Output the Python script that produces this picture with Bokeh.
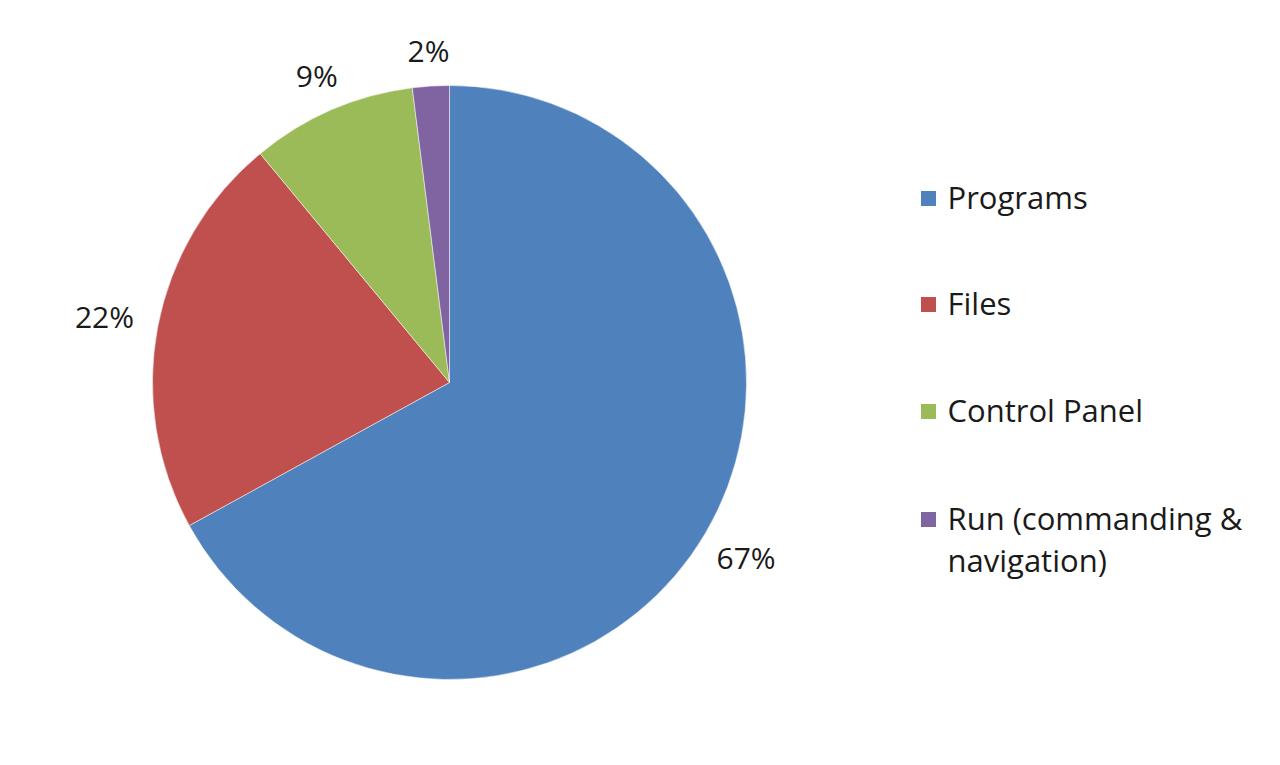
import math
from bokeh.plotting import figure
from bokeh.models import Range1d, ColumnDataSource
from bokeh.core.properties import value
from bokeh.embed import file_html
from bokeh.resources import INLINE

categories = ["Programs", "Files", "Control Panel", "Run (commanding &\nnavigation)"]
shares = [67, 22, 9, 2]
colors = ["#4F81BD", "#C0504D", "#9BBB59", "#8064A2"]

W, H = 1280, 765
cx, cy, R = 449, H - 382, 297
FONT = "Open Sans"
FS = 30
LFS = 31

p = figure(width=W, height=H, x_range=Range1d(0, W), y_range=Range1d(0, H),
           output_backend="svg", toolbar_location=None, min_border=0)
p.axis.visible = False
p.grid.visible = False
p.outline_line_color = None
p.background_fill_color = "white"

total = sum(shares)
starts, ends, lx, ly, labels = [], [], [], [], []
a = math.pi / 2
gap = 24
for v in shares:
    span = 2 * math.pi * v / total
    starts.append(a)
    ends.append(a - span)
    mid = a - span / 2
    lab = f"{v}%"
    hw = len(lab) * 0.66 * FS / 2
    hh = 0.40 * FS
    c, s = abs(math.cos(mid)), abs(math.sin(mid))
    ext = min(hw / c if c > 1e-6 else 1e9, hh / s if s > 1e-6 else 1e9)
    rl = R + gap + ext
    lx.append(cx + rl * math.cos(mid))
    ly.append(cy + rl * math.sin(mid))
    labels.append(lab)
    a -= span

src = ColumnDataSource(dict(start=starts, end=ends, color=colors))
p.wedge(x=cx, y=cy, radius=R, start_angle="start", end_angle="end",
        direction="clock", fill_color="color", line_color="white", line_width=0.5, source=src)

p.text(x=lx, y=ly, text=labels, text_align="center", text_baseline="middle",
       text_font=value(FONT), text_font_size=f"{FS}px", text_color="#1a1a1a")

# legend
leg_y = [H - 198, H - 304, H - 411, H - 519]
p.scatter(x=[928] * 4, y=leg_y, marker="square", size=15, fill_color=colors, line_color=None)
p.text(x=[947] * 4, y=[yy + 23 for yy in leg_y], text=categories, text_align="left",
       text_baseline="top", text_font=value(FONT), text_font_size=f"{LFS}px",
       text_color="#1a1a1a", text_line_height=1.0)

open("out.html", "w").write(file_html(p, INLINE))
